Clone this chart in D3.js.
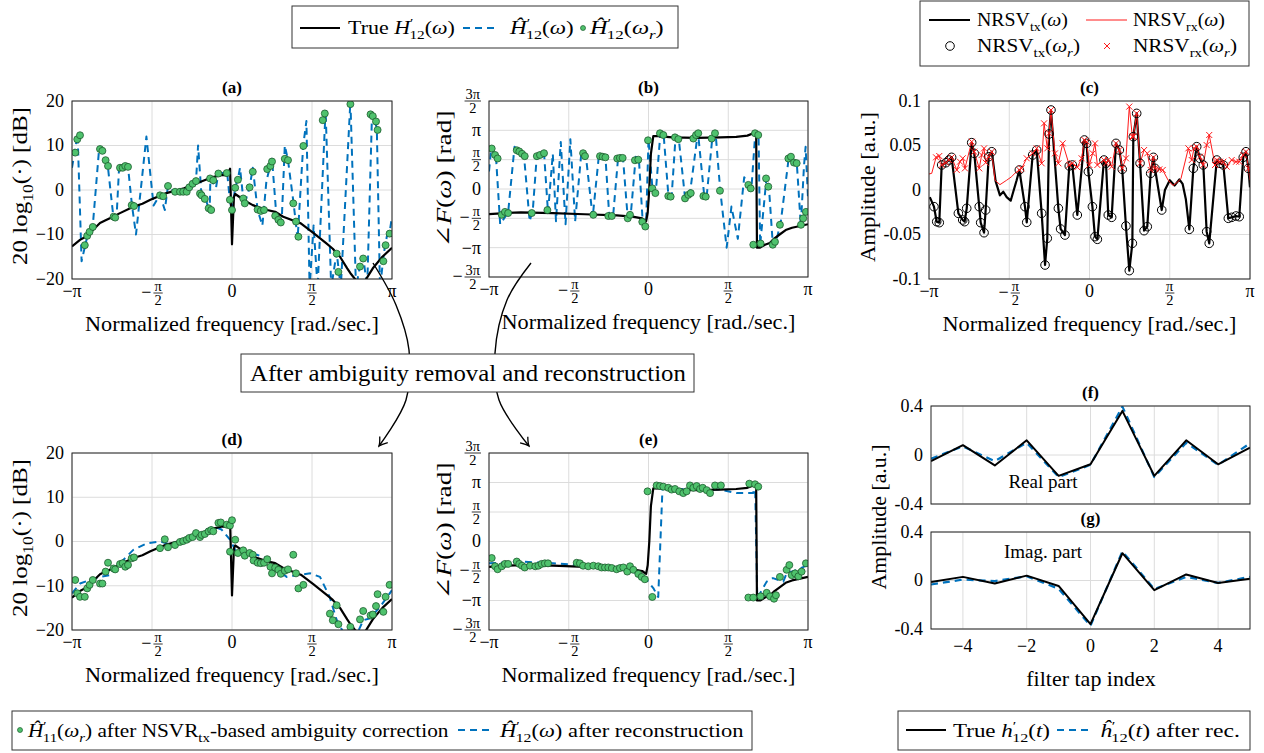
<!DOCTYPE html>
<html><head><meta charset="utf-8">
<script src="https://cdn.jsdelivr.net/npm/d3@7"></script>
<style>
body{margin:0;background:#fff}
svg, svg text{font-family:"Liberation Serif","DejaVu Serif","Times New Roman",serif}
</style></head><body>
<svg width="1264" height="753" font-family="Liberation Serif, DejaVu Serif, serif"></svg>
<script>
// frequencies are stored in units of pi, phases in units of pi
var magTrue = [[-1,-12.7],[-0.95,-11.2],[-0.92,-10.6],[-0.89,-9.7],[-0.825,-7.4],[-0.79,-6.8],[-0.76,-6.3],[-0.7,-5.2],[-0.62,-3.8],[-0.56,-3.1],[-0.51,-2.2],[-0.41,-0.7],[-0.3,0.4],[-0.2,1.8],[-0.12,2.9],[-0.06,3.4],[-0.03,3.3],[-0.012,4.8],[0,-12.2],[0.012,-1.6],[0.02,-0.9],[0.04,-1.4],[0.08,-2.4],[0.13,-3.4],[0.22,-4.5],[0.27,-4.9],[0.32,-6],[0.43,-7.5],[0.51,-9.7],[0.59,-12],[0.63,-13.2],[0.675,-15],[0.72,-17.6],[0.74,-18.7],[0.78,-20.5],[0.83,-20.5],[0.88,-17.6],[0.94,-15],[1,-13]];
var magEstA = [[-1.00,5],[-0.965,12.5],[-0.94,-16],[-0.905,-10.5],[-0.87,-8],[-0.83,9.5],[-0.79,6.5],[-0.775,5],[-0.74,-6.5],[-0.72,-5],[-0.705,5.5],[-0.65,5.2],[-0.625,-3.5],[-0.60,-10],[-0.535,12],[-0.49,-3.5],[-0.45,-1],[-0.42,-4.5],[-0.40,1],[-0.36,-0.5],[-0.30,-0.3],[-0.26,0.6],[-0.225,2],[-0.212,10],[-0.19,-1.5],[-0.16,-2.5],[-0.14,-5],[-0.135,2.6],[-0.10,0.5],[-0.085,3.8],[-0.03,3.8],[-0.013,-2.5],[0.0,-4.5],[0.02,0.5],[0.037,2.5],[0.05,5],[0.075,-3.5],[0.11,0.6],[0.13,5],[0.16,-4.5],[0.19,-8],[0.215,2],[0.25,7],[0.28,-7],[0.31,-7.5],[0.33,10],[0.35,6.7],[0.385,-3],[0.41,-11],[0.445,10],[0.465,15.5],[0.485,-22],[0.51,-8],[0.535,-22],[0.585,18],[0.62,-22],[0.654,-14],[0.68,-22],[0.74,20],[0.775,-22],[0.80,-17],[0.82,-15],[0.845,-22],[0.875,17],[0.905,14],[0.925,-22],[0.95,-14],[0.97,-10],[0.985,-9.5],[1.0,-6]];
var dotsA = [[-0.98,8.4],[-0.967,11.4],[-0.95,12.3],[-0.92,-12.4],[-0.905,-10.3],[-0.89,-9.4],[-0.87,-8.3],[-0.825,9.2],[-0.81,8.8],[-0.79,6.7],[-0.775,5.4],[-0.74,-6],[-0.73,-6.2],[-0.7,5],[-0.683,5],[-0.667,5.4],[-0.65,5.2],[-0.627,-3.4],[-0.6125,-3.6],[-0.45,-1.2],[-0.43,-1.4],[-0.4,0.9],[-0.356,-0.4],[-0.325,-0.4],[-0.305,-0.4],[-0.283,-0.4],[-0.267,0.6],[-0.246,1.4],[-0.225,2],[-0.2,-0.8],[-0.19,-1.2],[-0.17,-2],[-0.146,-4.1],[-0.13,-4.5],[-0.137,2.6],[-0.117,2.2],[-0.085,3.7],[-0.033,3.8],[-0.013,-2.2],[0,-4.5],[0.02,0.5],[0.037,2.3],[0.07,-1.9],[0.08,-3],[0.11,0.6],[0.13,4.1],[0.16,-4.4],[0.18,-4.7],[0.2,-4.5],[0.22,4.7],[0.24,5.4],[0.25,6.4],[0.27,-5.8],[0.29,-6.7],[0.305,-7.3],[0.33,7],[0.35,6.7],[0.383,-3],[0.4,-7.1],[0.415,-10.5],[0.446,9.9],[0.567,15.7],[0.58,17.2],[0.654,-14.3],[0.665,-18.4],[0.74,19.3],[0.8,-17.2],[0.82,-15.4],[0.866,17],[0.88,16.6],[0.9,15.4],[0.91,13.5],[0.946,-16],[0.96,-12.4],[0.985,-9.8]];

var phaseTrue = [[-1,-0.43],[-0.9,-0.41],[-0.8,-0.4],[-0.6,-0.41],[-0.4,-0.43],[-0.2,-0.45],[-0.1,-0.47],[-0.04,-0.5],[-0.015,-0.55],[-0.005,-0.4],[0.005,0],[0.015,0.6],[0.03,0.9],[0.06,0.9],[0.15,0.88],[0.3,0.87],[0.45,0.88],[0.55,0.89],[0.62,0.91],[0.665,0.96],[0.675,0.98],[0.68,-1],[0.7,-1],[0.73,-0.95],[0.76,-0.92],[0.79,-0.84],[0.82,-0.78],[0.86,-0.7],[0.9,-0.66],[0.95,-0.63],[1,-0.6]];
var phaseEstB = [[-1,0.3],[-0.985,0.72],[-0.955,0.5],[-0.93,-0.6],[-0.88,-0.4],[-0.84,0.72],[-0.78,0.55],[-0.745,-0.55],[-0.725,-0.35],[-0.7,0.58],[-0.655,0.62],[-0.63,-0.4],[-0.6,0.6],[-0.58,-0.55],[-0.55,0.8],[-0.52,-0.6],[-0.49,0.85],[-0.46,-0.55],[-0.42,0.65],[-0.39,0.5],[-0.35,-0.48],[-0.31,0.6],[-0.27,0.54],[-0.245,-0.5],[-0.22,-0.4],[-0.19,0.55],[-0.16,0.53],[-0.13,-0.5],[-0.11,-0.4],[-0.08,0.55],[-0.06,0.5],[-0.035,-0.62],[-0.015,-0.6],[0,0.85],[0.025,0],[0.045,-0.08],[0.075,0.97],[0.095,0.92],[0.125,-0.12],[0.145,-0.13],[0.17,0.9],[0.19,0.85],[0.23,-0.17],[0.26,-0.07],[0.31,0.97],[0.35,-0.13],[0.365,-0.12],[0.4,0.87],[0.42,0.97],[0.45,-0.03],[0.49,-1],[0.52,-0.3],[0.56,-0.85],[0.6,0.2],[0.63,0.07],[0.645,0],[0.67,0.97],[0.69,0.92],[0.7,-0.95],[0.74,0.2],[0.755,0.03],[0.78,-0.97],[0.8,-0.9],[0.83,-0.55],[0.88,0.55],[0.93,0.43],[0.955,-0.62],[0.975,0.4],[0.985,0.72],[1,-0.15]];
var dotsB = [[-0.983,0.69],[-0.962,0.58],[-0.946,0.52],[-0.92,-0.44],[-0.9,-0.39],[-0.88,-0.41],[-0.826,0.66],[-0.81,0.64],[-0.793,0.6],[-0.776,0.56],[-0.732,-0.41],[-0.7,0.56],[-0.68,0.58],[-0.655,0.61],[-0.634,-0.36],[-0.41,0.61],[-0.398,0.56],[-0.346,-0.44],[-0.304,0.56],[-0.287,0.55],[-0.27,0.54],[-0.252,-0.46],[-0.23,-0.46],[-0.196,0.52],[-0.179,0.53],[-0.162,0.53],[-0.13,-0.5],[-0.116,-0.44],[-0.085,0.49],[-0.064,0.5],[-0.039,-0.56],[-0.02,-0.64],[-0.003,0.83],[0.024,0.01],[0.043,-0.07],[0.072,0.95],[0.093,0.92],[0.124,-0.12],[0.139,-0.13],[0.166,0.88],[0.187,0.85],[0.229,-0.16],[0.25,-0.1],[0.265,-0.07],[0.281,0.86],[0.298,0.92],[0.312,0.95],[0.344,-0.12],[0.359,-0.13],[0.396,0.86],[0.417,0.95],[0.448,-0.03],[0.626,0.07],[0.641,0.01],[0.668,0.95],[0.688,0.92],[0.657,-0.95],[0.703,-0.93],[0.737,0.18],[0.751,0.04],[0.779,-0.95],[0.793,-0.9],[0.824,-0.61],[0.877,0.52],[0.893,0.55],[0.912,0.45],[0.929,0.44],[0.956,-0.61],[0.97,-0.5],[0.987,-0.39]];

var nrsvTx = [[-0.969,-0.0187],[-0.952,-0.0356],[-0.936,-0.0367],[-0.921,0.0281],[-0.894,0.0307],[-0.875,0.0337],[-0.859,0.0367],[-0.817,-0.0262],[-0.79,-0.0337],[-0.778,-0.0356],[-0.765,-0.0206],[-0.734,0.0532],[-0.718,0.0412],[-0.687,-0.0187],[-0.678,-0.0367],[-0.657,-0.048],[-0.647,-0.0225],[-0.628,0.0374],[-0.609,0.043],[-0.437,0.0225],[-0.402,-0.0187],[-0.391,-0.0363],[-0.354,0.0393],[-0.329,0.0449],[-0.298,-0.0262],[-0.277,-0.0843],[-0.263,-0.0543],[-0.252,0.0629],[-0.24,0.0899],[-0.194,-0.0206],[-0.18,-0.0438],[-0.153,-0.0506],[-0.126,0.027],[-0.107,0.0281],[-0.076,-0.0281],[-0.032,0.0562],[-0.018,0.0524],[-0.007,0.0206],[0.018,-0.0187],[0.034,-0.0524],[0.049,-0.0554],[0.09,0.0337],[0.103,0.03],[0.117,-0.0281],[0.138,-0.0307],[0.165,0.0524],[0.186,0.0449],[0.204,0.0232],[0.227,-0.0404],[0.248,-0.0906],[0.267,-0.0599],[0.273,0.0599],[0.294,0.0861],[0.315,0.03],[0.34,-0.0457],[0.36,-0.0412],[0.381,0.0187],[0.398,0.0367],[0.408,0.0243],[0.45,-0.0225],[0.622,-0.0442],[0.647,0.0243],[0.668,0.0487],[0.688,0.0356],[0.709,0.0281],[0.73,-0.0468],[0.746,-0.0599],[0.793,0.0337],[0.813,0.03],[0.834,0.0281],[0.865,-0.0318],[0.886,-0.0307],[0.913,-0.0292],[0.933,-0.03],[0.958,0.0367],[0.975,0.043],[0.99,0.0243]];
var nrsvTxLineOnly = [[-0.995,-0.008],[-0.585,0.01],[-0.558,-0.006],[-0.537,-0.002],[-0.516,-0.008],[-0.491,-0.012],[-0.475,-0.002],[-0.454,0.011],[0.47,0],[0.5,0.011],[0.53,0.005],[0.56,0.012],[0.58,0.007],[0.6,-0.01],[1,0.003]];
var nrsvRx = [[-0.956,0.0367],[-0.936,0.0382],[-0.921,0.0281],[-0.894,0.0307],[-0.875,0.0337],[-0.859,0.0367],[-0.827,0.0225],[-0.807,0.0318],[-0.79,0.0356],[-0.776,0.0243],[-0.734,0.0543],[-0.718,0.043],[-0.687,0.0243],[-0.672,0.0393],[-0.657,0.0468],[-0.647,0.0307],[-0.628,0.0374],[-0.609,0.043],[-0.437,0.0225],[-0.423,0.0243],[-0.391,0.0356],[-0.354,0.0412],[-0.329,0.0468],[-0.298,0.03],[-0.283,0.0749],[-0.263,0.0468],[-0.252,0.0637],[-0.24,0.0899],[-0.215,0.0412],[-0.194,0.03],[-0.167,0.0524],[-0.126,0.0281],[-0.107,0.03],[-0.076,0.0256],[-0.049,0.0356],[-0.032,0.0562],[-0.018,0.0543],[-0.001,0.0281],[0.02,0.0412],[0.034,0.0524],[0.049,0.0281],[0.09,0.0337],[0.103,0.03],[0.117,0.0337],[0.138,0.0262],[0.165,0.0524],[0.186,0.0449],[0.204,0.0243],[0.227,0.0356],[0.248,0.0937],[0.267,0.0599],[0.273,0.0599],[0.294,0.0861],[0.315,0.03],[0.34,0.0449],[0.36,0.0412],[0.381,0.0225],[0.398,0.0367],[0.408,0.0243],[0.435,0.0232],[0.456,0.0225],[0.616,0.0468],[0.637,0.0337],[0.651,0.0468],[0.668,0.0487],[0.688,0.0374],[0.709,0.0281],[0.73,0.0505],[0.746,0.0618],[0.782,0.0281],[0.793,0.0337],[0.813,0.0318],[0.834,0.0318],[0.855,0.0262],[0.886,0.0337],[0.913,0.0318],[0.933,0.0318],[0.958,0.0393],[0.975,0.043],[0.99,0.0243]];
var nrsvRxLineOnly = [[-1,0.018],[-0.983,0.0187],[-0.589,0.011],[-0.558,0.006],[-0.516,0.011],[-0.485,0.015],[-0.464,0.019],[0.49,0.011],[0.52,0.005],[0.55,0.009],[0.57,0.013],[1,0.011]];

var magRec = [[-1,-11.7],[-0.95,-9.5],[-0.89,-8.7],[-0.825,-8],[-0.76,-7.6],[-0.7,-4.9],[-0.617,-1.9],[-0.53,-0.4],[-0.45,0],[-0.37,-0.8],[-0.283,0.4],[-0.2,1.9],[-0.117,3.4],[-0.065,2.7],[-0.0125,0.4],[0.02,-1.9],[0.07,-2.6],[0.155,-3],[0.217,-3.8],[0.28,-6.4],[0.342,-8],[0.405,-7.6],[0.49,-7.2],[0.55,-8],[0.61,-12.5],[0.655,-17.8],[0.7,-20.8],[0.78,-21],[0.82,-17.8],[0.86,-17.4],[0.925,-14.8],[1,-11]];
var dotsD = [[-0.98,-8.7],[-0.967,-11.7],[-0.95,-12.5],[-0.92,-12.5],[-0.905,-10.6],[-0.89,-9.8],[-0.87,-8.7],[-0.825,-9.5],[-0.81,-9.5],[-0.79,-6.8],[-0.775,-4.8],[-0.74,-6.1],[-0.73,-6.3],[-0.7,-5.1],[-0.683,-4.9],[-0.667,-5.7],[-0.65,-5.3],[-0.627,-3.8],[-0.6125,-3.6],[-0.45,-1.5],[-0.42,0.5],[-0.4,-1.3],[-0.356,-0.8],[-0.325,-0.1],[-0.305,0.1],[-0.283,0.4],[-0.267,0.8],[-0.246,1],[-0.225,1.9],[-0.2,1],[-0.19,1.5],[-0.17,1.7],[-0.146,2.3],[-0.13,2.6],[-0.117,2.3],[-0.085,4.2],[-0.07,4.3],[-0.033,3.8],[-0.013,3.6],[0,4.8],[0.02,0.4],[-0.0125,-2.3],[0.037,-2.6],[0.07,-2],[0.08,-3.2],[0.11,-2.6],[0.13,-3],[0.135,-4.3],[0.16,-4.8],[0.18,-4.9],[0.2,-4.8],[0.22,-4],[0.24,-5.7],[0.25,-7.2],[0.27,-5.9],[0.29,-6.4],[0.305,-7.3],[0.33,-6.6],[0.35,-6.3],[0.383,-3],[0.4,-7.2],[0.415,-10.6],[0.446,-9.8],[0.612,-16.3],[0.63,-17.8],[0.654,-14.4],[0.665,-18.7],[0.74,-19.3],[0.8,-17.6],[0.82,-15.7],[0.866,-16.7],[0.88,-16.5],[0.9,-14.6],[0.91,-11.9],[0.946,-15.9],[0.96,-12.5],[0.985,-9.8]];

var phaseRec = [[-1,-0.37],[-0.806,-0.34],[-0.597,-0.37],[-0.43,-0.4],[-0.262,-0.43],[-0.095,-0.51],[-0.011,-0.65],[0.03,-0.79],[0.061,-0.94],[0.089,0.995],[0.114,0.91],[0.24,0.88],[0.448,0.88],[0.553,0.82],[0.657,0.82],[0.668,0.995],[0.682,-0.96],[0.741,-0.68],[0.78,-0.62],[0.845,-0.68],[0.866,-0.54],[0.93,-0.48],[1,-0.4]];
var dotsE = [[-0.983,-0.28],[-0.962,-0.42],[-0.946,-0.47],[-0.92,-0.42],[-0.9,-0.38],[-0.88,-0.38],[-0.826,-0.34],[-0.81,-0.38],[-0.793,-0.41],[-0.776,-0.44],[-0.743,-0.41],[-0.71,-0.42],[-0.69,-0.41],[-0.67,-0.38],[-0.65,-0.37],[-0.63,-0.37],[-0.45,-0.36],[-0.43,-0.37],[-0.41,-0.41],[-0.378,-0.42],[-0.346,-0.41],[-0.315,-0.42],[-0.294,-0.44],[-0.273,-0.44],[-0.252,-0.44],[-0.23,-0.45],[-0.2,-0.47],[-0.179,-0.45],[-0.158,-0.44],[-0.133,-0.51],[-0.116,-0.42],[-0.095,-0.48],[-0.064,-0.55],[-0.043,-0.6],[-0.023,-0.64],[-0.006,0.85],[0.024,-0.94],[0.051,0.95],[0.072,0.94],[0.093,0.93],[0.124,0.91],[0.145,0.88],[0.166,0.89],[0.193,0.85],[0.218,0.82],[0.239,0.85],[0.26,0.95],[0.281,0.91],[0.302,0.94],[0.323,0.89],[0.34,0.91],[0.365,0.87],[0.386,0.82],[0.417,0.95],[0.454,0.95],[0.632,0.98],[0.668,0.97],[0.688,0.93],[0.626,-0.95],[0.657,-0.95],[0.703,-0.93],[0.741,-0.87],[0.762,-0.93],[0.787,-0.97],[0.799,-0.91],[0.824,-0.6],[0.866,-0.48],[0.883,-0.4],[0.898,-0.57],[0.919,-0.54],[0.94,-0.59],[0.96,-0.51],[0.987,-0.37]];

var taps = [-5,-4,-3,-2,-1,0,1,2,3,4,5];
var realTrue = [-0.05,0.08,-0.085,0.12,-0.17,-0.076,0.36,-0.17,0.12,-0.076,0.06];
var realRec = [-0.03,0.07,-0.05,0.1,-0.18,-0.08,0.395,-0.18,0.1,-0.08,0.095];
var imagTrue = [-0.013,0.03,-0.025,0.04,-0.045,-0.36,0.225,-0.08,0.05,-0.02,0.015];
var imagRec = [-0.033,0.008,-0.005,0.035,-0.068,-0.373,0.24,-0.07,0.03,-0.02,0.03];

var freqTicks = [-1, -0.5, 0, 0.5, 1];
var freqTickLabels = ['−π', {s:'−', n:'π', d:'2'}, '0', {n:'π', d:'2'}, 'π'];
var dbTicks = [-20, -10, 0, 10, 20];
var dbTickLabels = ['−20', '−10', '0', '10', '20'];
var phaseTicks = [-1.5, -1, -0.5, 0, 0.5, 1, 1.5];
var phaseTickLabels = [{s:'−', n:'3π', d:'2'}, '−π', {s:'−', n:'π', d:'2'}, '0', {n:'π', d:'2'}, 'π', {n:'3π', d:'2'}];
var ampTicks = [-0.1, -0.05, 0, 0.05, 0.1];
var ampTickLabels = ['-0.1', '-0.05', '0', '0.05', '0.1'];
var tapTicks = [-4, -2, 0, 2, 4];
var tapTickLabels = ['−4', '−2', '0', '2', '4'];
var tapAmpTicks = [-0.4, 0, 0.4];
var tapAmpTickLabels = ['-0.4', '0', '0.4'];

var blue = '#0072BD', green = '#4fc26d', greenEdge = '#1d5c2e', red = '#ff1a1a';
var svg = d3.select('svg');
var clipN = 0;

// text with italic / sub / sup pieces; optionally squeezed or stretched to a given width
function rich(g, x, y, segs, fs, anchor, fitW) {
    var gg = g.append('g').attr('transform', 'translate(' + x + ',' + y + ')');
    var t = gg.append('text').attr('font-size', fs).attr('text-anchor', anchor || 'start');
    var cur = 0;
    segs.forEach(function(s) {
        var st = s[1] || '';
        var off = st.indexOf('b') >= 0 ? fs * 0.28 : st.indexOf('p') >= 0 ? -fs * 0.38 : 0;
        var sp = t.append('tspan').attr('dy', off - cur).text(s[0]);
        if (off) sp.attr('font-size', fs * 0.7);
        if (st.indexOf('i') >= 0) sp.attr('font-style', 'italic');
        if (st.indexOf('k') >= 0) sp.attr('dx', -fs * 0.18);
        cur = off;
    });
    if (fitW) {
        var w = t.node().getBBox().width;
        gg.attr('transform', 'translate(' + x + ',' + y + ') scale(' + (fitW / w) + ',1)');
    }
    return t;
}

function tickLabel(g, spec, px, py, mode, fs) {
    var grp = g.append('g');
    if (typeof spec === 'string') {
        var t = grp.append('text').attr('font-size', fs).text(spec);
        if (mode === 'x') t.attr('x', px).attr('y', py + fs * 0.67).attr('text-anchor', 'middle');
        else t.attr('x', px).attr('y', py + fs * 0.33).attr('text-anchor', 'end');
        return;
    }
    var ff = fs * 0.8;
    var num = grp.append('text').attr('font-size', ff).attr('text-anchor', 'middle').text(spec.n);
    var den = grp.append('text').attr('font-size', ff).attr('text-anchor', 'middle').text(spec.d);
    var w = Math.max(num.node().getComputedTextLength(), den.node().getComputedTextLength()) + 2;
    var sw = 0, sg = null;
    if (spec.s) {
        sg = grp.append('text').attr('font-size', fs).text(spec.s);
        sw = sg.node().getComputedTextLength() + 2;
    }
    var total = sw + w;
    var left = mode === 'x' ? px - total / 2 : px - total;
    var barY = mode === 'x' ? py + 8 : py;
    if (sg) sg.attr('x', left).attr('y', barY + fs * 0.26);
    var cx = left + sw + w / 2;
    num.attr('x', cx).attr('y', barY - 2.5);
    den.attr('x', cx).attr('y', barY + ff * 0.82);
    grp.append('line').attr('x1', cx - w / 2).attr('x2', cx + w / 2)
        .attr('y1', barY).attr('y2', barY).attr('stroke', '#000').attr('stroke-width', 0.8);
}

function panel(b, xd, yd, xt, yt, xl, yl) {
    var x = d3.scaleLinear().domain(xd).range([b.x0, b.x1]);
    var y = d3.scaleLinear().domain(yd).range([b.y1, b.y0]);
    var g = svg.append('g');
    var id = 'clip' + (clipN++);
    svg.append('clipPath').attr('id', id).append('rect')
        .attr('x', b.x0).attr('y', b.y0).attr('width', b.x1 - b.x0).attr('height', b.y1 - b.y0);
    g.append('rect').attr('x', b.x0).attr('y', b.y0).attr('width', b.x1 - b.x0)
        .attr('height', b.y1 - b.y0).attr('fill', '#fff');
    g.selectAll('.gx').data(xt).enter().append('line')
        .attr('x1', function(d) { return x(d); }).attr('x2', function(d) { return x(d); })
        .attr('y1', b.y0).attr('y2', b.y1).attr('stroke', '#dcdcdc').attr('stroke-width', 1);
    g.selectAll('.gy').data(yt).enter().append('line')
        .attr('y1', function(d) { return y(d); }).attr('y2', function(d) { return y(d); })
        .attr('x1', b.x0).attr('x2', b.x1).attr('stroke', '#dcdcdc').attr('stroke-width', 1);
    if (xl) xt.forEach(function(d, i) { tickLabel(g, xl[i], x(d), b.y1 + (b.xoff || 6), 'x', 18); });
    if (yl) yt.forEach(function(d, i) { tickLabel(g, yl[i], b.x0 - 8, y(d), 'y', 18); });
    var plot = g.append('g').attr('clip-path', 'url(#' + id + ')');
    return {x: x, y: y, g: g, plot: plot, b: b};
}

function frame(p) {
    p.g.append('rect').attr('x', p.b.x0).attr('y', p.b.y0).attr('width', p.b.x1 - p.b.x0)
        .attr('height', p.b.y1 - p.b.y0).attr('fill', 'none').attr('stroke', '#222').attr('stroke-width', 1);
}

function line(p, data, fx, fy, stroke, width, dash) {
    var l = d3.line().x(function(d, i) { return p.x(fx(d, i)); }).y(function(d, i) { return p.y(fy(d, i)); });
    var path = p.plot.append('path').datum(data).attr('d', l).attr('fill', 'none')
        .attr('stroke', stroke).attr('stroke-width', width).attr('stroke-linejoin', 'round');
    if (dash) path.attr('stroke-dasharray', dash);
}

function dots(p, data, fx, fy) {
    p.plot.selectAll('.dot').data(data).enter().append('circle')
        .attr('cx', function(d) { return p.x(fx(d)); }).attr('cy', function(d) { return p.y(fy(d)); })
        .attr('r', 3.5).attr('fill', green).attr('stroke', greenEdge).attr('stroke-width', 0.8);
}

function title(p, s) {
    p.g.append('text').attr('x', (p.b.x0 + p.b.x1) / 2).attr('y', p.b.y0 - 8)
        .attr('text-anchor', 'middle').attr('font-size', 17).attr('font-weight', 'bold').text(s);
}

function xlabel(p, s) {
    rich(p.g, (p.b.x0 + p.b.x1) / 2, p.b.y1 + 52, [[s]], 21, 'middle', 294);
}

function ylabel(g, cx, cy, segs, len) {
    var gg = g.append('g').attr('transform', 'translate(' + cx + ',' + cy + ') rotate(-90)');
    rich(gg, 0, 0, segs, 21, 'middle', len);
}

var PI = Math.PI;
var fx = function(d) { return d[0] * PI; };
var fdb = function(d) { return d[1]; };
var fph = function(d) { return d[1] * PI; };
var freqT = freqTicks.map(function(k) { return k * PI; });
var phT = phaseTicks.map(function(k) { return k * PI; });
var dbLabel = [['20 log'], ['10', 'b'], ['(·) [dB]']];
var phLabel = [['∠'], ['F', 'i'], ['('], ['ω', 'i'], [') [rad]']];
var freqName = 'Normalized frequency [rad./sec.]';

// (a)
var pa = panel({x0: 72, x1: 392, y0: 101, y1: 279}, [-PI, PI], [-20, 20], freqT, dbTicks, freqTickLabels, dbTickLabels);
line(pa, magEstA, fx, fdb, blue, 2, '7,5');
line(pa, magTrue, fx, fdb, '#000', 2.2);
dots(pa, dotsA, fx, fdb);
frame(pa); title(pa, '(a)'); xlabel(pa, freqName);
ylabel(pa.g, 27, 186, dbLabel, 158);

// (b)
var pb = panel({x0: 489, x1: 808, y0: 101, y1: 277}, [-PI, PI], [-1.5 * PI, 1.5 * PI], freqT, phT, freqTickLabels, phaseTickLabels);
line(pb, phaseEstB, fx, fph, blue, 2, '7,5');
line(pb, phaseTrue, fx, fph, '#000', 2.2);
dots(pb, dotsB, fx, fph);
frame(pb); title(pb, '(b)'); xlabel(pb, freqName);
ylabel(pb.g, 451, 179, phLabel, 137);

// (c)
var pc = panel({x0: 929, x1: 1250, y0: 101, y1: 279}, [-PI, PI], [-0.1, 0.1], freqT, ampTicks, freqTickLabels, ampTickLabels);
var byT = function(a, b) { return a[0] - b[0]; };
line(pc, nrsvTx.concat(nrsvTxLineOnly).sort(byT), fx, fdb, '#000', 2.2);
line(pc, nrsvRx.concat(nrsvRxLineOnly).sort(byT), fx, fdb, red, 1);
pc.plot.selectAll('.o').data(nrsvTx).enter().append('circle')
    .attr('cx', function(d) { return pc.x(fx(d)); }).attr('cy', function(d) { return pc.y(d[1]); })
    .attr('r', 4.3).attr('fill', 'none').attr('stroke', '#000').attr('stroke-width', 1);
pc.plot.selectAll('.xm').data(nrsvRx).enter().append('path')
    .attr('d', function(d) { var X = pc.x(fx(d)), Y = pc.y(d[1]);
        return 'M' + (X - 3) + ',' + (Y - 3) + 'L' + (X + 3) + ',' + (Y + 3) + 'M' + (X - 3) + ',' + (Y + 3) + 'L' + (X + 3) + ',' + (Y - 3); })
    .attr('stroke', red).attr('stroke-width', 1);
frame(pc); title(pc, '(c)'); xlabel(pc, freqName);
ylabel(pc.g, 875, 187, [['Amplitude [a.u.]']], 150);

// (d)
var pd = panel({x0: 72, x1: 392, y0: 453, y1: 630}, [-PI, PI], [-20, 20], freqT, dbTicks, freqTickLabels, dbTickLabels);
line(pd, magRec, fx, fdb, blue, 2, '7,5');
line(pd, magTrue, fx, fdb, '#000', 2.2);
dots(pd, dotsD, fx, fdb);
frame(pd); title(pd, '(d)'); xlabel(pd, freqName);
ylabel(pd.g, 27, 538, dbLabel, 158);

// (e)
var pe = panel({x0: 489, x1: 808, y0: 453, y1: 630}, [-PI, PI], [-1.5 * PI, 1.5 * PI], freqT, phT, freqTickLabels, phaseTickLabels);
line(pe, phaseRec, fx, fph, blue, 2, '7,5');
line(pe, phaseTrue, fx, fph, '#000', 2.2);
dots(pe, dotsE, fx, fph);
frame(pe); title(pe, '(e)'); xlabel(pe, freqName);
ylabel(pe.g, 451, 531, phLabel, 137);

// (f), (g)
var fn = function(d, i) { return taps[i]; };
var fv = function(d) { return d; };
var pf = panel({x0: 931, x1: 1250, y0: 406, y1: 504}, [-5, 5], [-0.4, 0.4], tapTicks, tapAmpTicks, null, tapAmpTickLabels);
line(pf, realRec, fn, fv, blue, 2.2, '7,5');
line(pf, realTrue, fn, fv, '#000', 2);
frame(pf); title(pf, '(f)');
pf.g.append('text').attr('x', 1043).attr('y', 488).attr('text-anchor', 'middle').attr('font-size', 19).text('Real part');

var pg = panel({x0: 931, x1: 1250, y0: 532, y1: 629, xoff: 11}, [-5, 5], [-0.4, 0.4], tapTicks, tapAmpTicks, tapTickLabels, tapAmpTickLabels);
line(pg, imagRec, fn, fv, blue, 2.2, '7,5');
line(pg, imagTrue, fn, fv, '#000', 2);
frame(pg); title(pg, '(g)');
pg.g.append('text').attr('x', 1043).attr('y', 558).attr('text-anchor', 'middle').attr('font-size', 19).text('Imag. part');
rich(svg, 1091, 686, [['filter tap index']], 21, 'middle', 130);
ylabel(svg, 886, 517, [['Amplitude [a.u.]']], 145);

// arrows and the middle box
svg.append('defs').append('marker').attr('id', 'arr').attr('viewBox', '-9 -6 11 12')
    .attr('refX', 0).attr('refY', 0).attr('markerWidth', 11).attr('markerHeight', 12)
    .attr('markerUnits', 'userSpaceOnUse').attr('orient', 'auto')
    .append('path').attr('d', 'M-8,-5 Q-3,-1 0,0 Q-3,1 -8,5').attr('fill', 'none')
    .attr('stroke', '#000').attr('stroke-width', 1.3);
var curve = d3.line().curve(d3.curveCatmullRom);
[[[373, 263], [396, 305], [409, 350], [406, 400], [379, 446]],
 [[531, 263], [507, 300], [495, 353], [499, 400], [529, 446]]].forEach(function(pts) {
    svg.append('path').attr('d', curve(pts)).attr('fill', 'none').attr('stroke', '#000')
        .attr('stroke-width', 1.4).attr('marker-end', 'url(#arr)');
});
svg.append('rect').attr('x', 241).attr('y', 354).attr('width', 453).attr('height', 38)
    .attr('fill', '#fff').attr('stroke', '#333').attr('stroke-width', 1);
rich(svg, 250, 381, [['After ambiguity removal and reconstruction']], 24, 'start', 436);

// legends
function legBox(x, y, w, h) {
    svg.append('rect').attr('x', x).attr('y', y).attr('width', w).attr('height', h)
        .attr('fill', '#fff').attr('stroke', '#333').attr('stroke-width', 1);
}
function legLine(x1, x2, y, stroke, w, dash) {
    var l = svg.append('line').attr('x1', x1).attr('x2', x2).attr('y1', y).attr('y2', y)
        .attr('stroke', stroke).attr('stroke-width', w);
    if (dash) l.attr('stroke-dasharray', dash);
}
function legDot(x, y) {
    svg.append('circle').attr('cx', x).attr('cy', y).attr('r', 2.5).attr('fill', green)
        .attr('stroke', greenEdge).attr('stroke-width', 0.7);
}

legBox(292, 6, 386, 42);
legLine(300, 340, 28, '#000', 2.2);
rich(svg, 348, 34, [['True '], ['H', 'i'], ['′', 'p'], ['12', 'bk'], ['('], ['ω', 'i'], [')']], 19, 'start', 107);
legLine(463, 499, 28, blue, 2, '7,5');
rich(svg, 510, 34, [['Ĥ', 'i'], ['′', 'p'], ['12', 'bk'], ['('], ['ω', 'i'], [')']], 19, 'start', 65);
legDot(583, 28);
rich(svg, 590, 34, [['Ĥ', 'i'], ['′', 'p'], ['12', 'bk'], ['('], ['ω', 'i'], ['r', 'ib'], [')']], 19, 'start', 75);

legBox(920, 1, 329, 65);
legLine(929, 970, 20, '#000', 2.2);
rich(svg, 977, 26, [['NRSV'], ['tx', 'b'], ['('], ['ω', 'i'], [')']], 19, 'start', 91);
legLine(1086, 1127, 20, red, 1);
rich(svg, 1133, 26, [['NRSV'], ['rx', 'b'], ['('], ['ω', 'i'], [')']], 19, 'start', 92);
svg.append('circle').attr('cx', 950).attr('cy', 46).attr('r', 4.3).attr('fill', 'none').attr('stroke', '#000');
rich(svg, 977, 52, [['NRSV'], ['tx', 'b'], ['('], ['ω', 'i'], ['r', 'ib'], [')']], 19, 'start', 103);
svg.append('path').attr('d', 'M1104,43L1110,49M1104,49L1110,43').attr('stroke', red).attr('stroke-width', 1);
rich(svg, 1133, 52, [['NRSV'], ['rx', 'b'], ['('], ['ω', 'i'], ['r', 'ib'], [')']], 19, 'start', 104);

legBox(12, 711, 740, 39);
legDot(20, 730);
rich(svg, 28, 737, [['Ĥ', 'i'], ['′', 'p'], ['11', 'bk'], ['('], ['ω', 'i'], ['r', 'ib'], [') after NSVR'], ['tx', 'b'], ['-based ambiguity correction']], 18, 'start', 422);
legLine(458, 491, 730, blue, 2, '7,5');
rich(svg, 500, 737, [['Ĥ', 'i'], ['′', 'p'], ['12', 'bk'], ['('], ['ω', 'i'], [') after reconstruction']], 18, 'start', 245);

legBox(898, 711, 352, 39);
legLine(906, 946, 730, '#000', 2.2);
rich(svg, 953, 737, [['True '], ['h', 'i'], ['′', 'p'], ['12', 'bk'], ['('], ['t', 'i'], [')']], 19, 'start', 97);
legLine(1057, 1091, 730, blue, 2, '7,5');
rich(svg, 1100, 737, [['ĥ', 'i'], ['′', 'p'], ['12', 'bk'], ['('], ['t', 'i'], [') after rec.']], 19, 'start', 140);
</script></body></html>
